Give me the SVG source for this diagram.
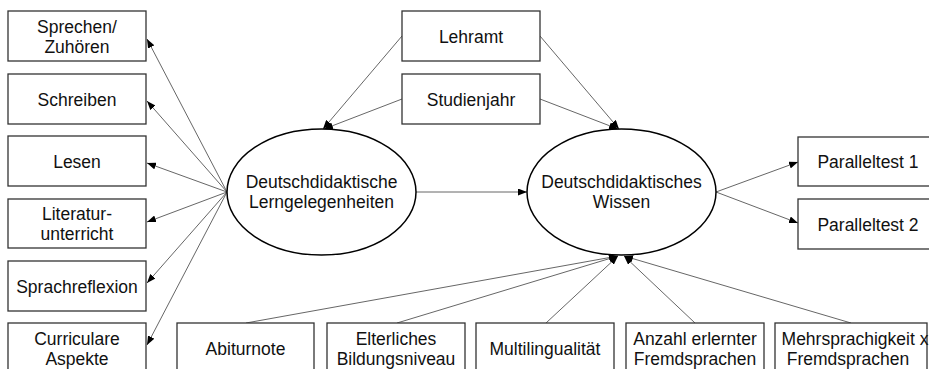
<svg xmlns="http://www.w3.org/2000/svg" width="929" height="369" viewBox="0 0 929 369">
<defs>
<marker id="ah" markerUnits="userSpaceOnUse" markerWidth="9" markerHeight="7" refX="9" refY="3.5" orient="auto">
<path d="M0,0 L9,3.5 L0,7 z" fill="#000"/>
</marker>
<style>
.box{fill:#fff;stroke:#333;stroke-width:1.3}
.ell{fill:#fff;stroke:#000;stroke-width:1.5}
.t{font-family:"Liberation Sans",Arial,sans-serif;font-size:17.5px;fill:#111;text-anchor:middle}
.c line{stroke:#555;stroke-width:0.9;marker-end:url(#ah)}
</style>
</defs>
<rect width="929" height="369" fill="#fff"/>
<g class="c" id="connectors">
<line x1="227" y1="192" x2="147" y2="39"/>
<line x1="227" y1="192" x2="147" y2="101"/>
<line x1="227" y1="192" x2="147" y2="163"/>
<line x1="227" y1="192" x2="147" y2="222"/>
<line x1="227" y1="192" x2="147" y2="283"/>
<line x1="227" y1="192" x2="147" y2="345"/>
<line x1="402" y1="36" x2="323" y2="129"/>
<line x1="402" y1="99" x2="324" y2="129"/>
<line x1="540" y1="36" x2="619" y2="129"/>
<line x1="540" y1="99" x2="618" y2="129"/>
<line x1="416" y1="192" x2="527" y2="192"/>
<line x1="716" y1="192" x2="798" y2="162"/>
<line x1="716" y1="192" x2="798" y2="223"/>
<line x1="246" y1="323" x2="618" y2="256"/>
<line x1="397" y1="323" x2="618" y2="256"/>
<line x1="546" y1="323" x2="618" y2="256"/>
<line x1="695" y1="323" x2="624" y2="256"/>
<line x1="851" y1="323" x2="624" y2="256"/>
</g>
<g id="n-sprechen"><rect class="box" x="8" y="11" width="138" height="50"/><text class="t" x="77" y="32.5">Sprechen/</text><text class="t" x="77" y="52.5">Zuhören</text></g>
<g id="n-schreiben"><rect class="box" x="8" y="74" width="138" height="50"/><text class="t" x="77" y="105.5">Schreiben</text></g>
<g id="n-lesen"><rect class="box" x="8" y="136" width="138" height="50"/><text class="t" x="77" y="167.5">Lesen</text></g>
<g id="n-literatur"><rect class="box" x="8" y="199" width="138" height="49"/><text class="t" x="77" y="220">Literatur-</text><text class="t" x="77" y="240">unterricht</text></g>
<g id="n-sprachreflexion"><rect class="box" x="8" y="261" width="138" height="50"/><text class="t" x="77" y="292.5">Sprachreflexion</text></g>
<g id="n-curriculare"><rect class="box" x="8" y="323" width="138" height="60"/><text class="t" x="77" y="344.5">Curriculare</text><text class="t" x="77" y="364.5">Aspekte</text></g>
<g id="n-lehramt"><rect class="box" x="402" y="11" width="138" height="50"/><text class="t" x="471" y="42.5">Lehramt</text></g>
<g id="n-studienjahr"><rect class="box" x="402" y="74" width="138" height="50"/><text class="t" x="471" y="105.5">Studienjahr</text></g>
<g id="n-lerngelegenheiten"><ellipse class="ell" cx="321.5" cy="192" rx="94.5" ry="63"/><text class="t" x="321.5" y="188">Deutschdidaktische</text><text class="t" x="321.5" y="208">Lerngelegenheiten</text></g>
<g id="n-wissen"><ellipse class="ell" cx="621.5" cy="192" rx="94.5" ry="63"/><text class="t" x="621.5" y="188">Deutschdidaktisches</text><text class="t" x="621.5" y="208">Wissen</text></g>
<g id="n-parallel1"><rect class="box" x="798" y="137" width="140" height="49"/><text class="t" x="868" y="168">Paralleltest 1</text></g>
<g id="n-parallel2"><rect class="box" x="798" y="199" width="140" height="50"/><text class="t" x="868" y="230.5">Paralleltest 2</text></g>
<g id="n-abitur"><rect class="box" x="177" y="323" width="137" height="60"/><text class="t" x="245.5" y="355">Abiturnote</text></g>
<g id="n-eltern"><rect class="box" x="327" y="323" width="138" height="60"/><text class="t" x="396" y="344.5">Elterliches</text><text class="t" x="396" y="364.5">Bildungsniveau</text></g>
<g id="n-multi"><rect class="box" x="476" y="323" width="138" height="60"/><text class="t" x="545" y="355">Multilingualität</text></g>
<g id="n-anzahl"><rect class="box" x="626" y="323" width="138" height="60"/><text class="t" x="695" y="344.5">Anzahl erlernter</text><text class="t" x="695" y="364.5">Fremdsprachen</text></g>
<g id="n-mehr"><rect class="box" x="775" y="323" width="152" height="60"/><text class="t" x="855" y="344.5">Mehrsprachigkeit x</text><text class="t" x="848" y="364.5">Fremdsprachen</text></g>
</svg>
